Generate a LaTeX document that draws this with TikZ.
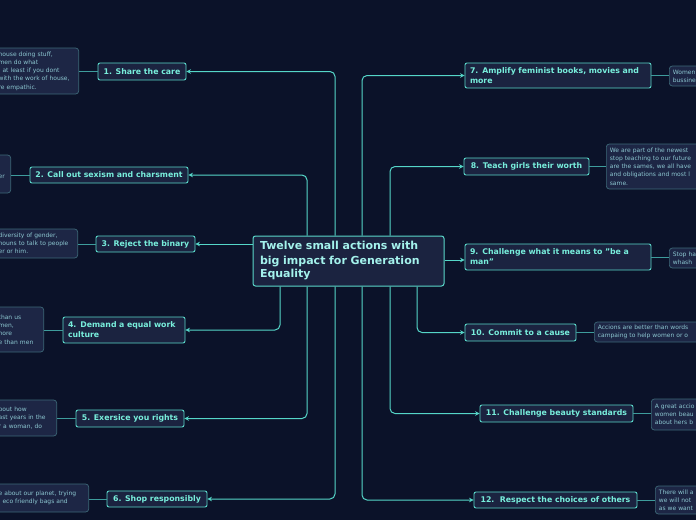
\documentclass[tikz,border=0pt]{standalone}
\usepackage{fontspec}
\setmainfont{DejaVu Sans}
\usetikzlibrary{arrows.meta}
\definecolor{bg}{HTML}{0B1229}
\definecolor{mainfill}{HTML}{1B2340}
\definecolor{mainborder}{HTML}{5AD8CA}
\definecolor{maintext}{HTML}{78EEDC}
\definecolor{centertext}{HTML}{A4F2EC}
\definecolor{notefill}{HTML}{1D2645}
\definecolor{noteborder}{HTML}{3D6878}
\definecolor{notetext}{HTML}{8CC6D0}
\definecolor{conncol}{HTML}{55D6C8}
\definecolor{noteconn}{HTML}{3E9C9C}
\newcommand{\nl}[1]{\mbox{#1}}
\begin{document}
\begin{tikzpicture}[x=1pt,y=-1pt,
  mainbox/.style={draw=mainborder, fill=mainfill, text=maintext, rounded corners=2pt,
    line width=0.9pt, font=\fontsize{7.8}{10}\selectfont\bfseries, inner xsep=4pt, inner ysep=0pt},
  twoline/.style={align=left, inner xsep=5pt},
  centerbox/.style={draw=mainborder, fill=mainfill, text=centertext, rounded corners=2.5pt,
    line width=1pt, font=\fontsize{11}{13.5}\selectfont\bfseries, align=left,
    inner xsep=7pt, inner ysep=0pt},
  notebox/.style={draw=noteborder, fill=notefill, text=notetext, rounded corners=3pt,
    line width=0.7pt, font=\fontsize{6}{8.2}\selectfont, align=left, inner ysep=0pt},
  lnote/.style={notebox, anchor=east, inner xsep=2pt},
  rnote/.style={notebox, anchor=west, inner xsep=3.5pt, text width=130pt},
  conn/.style={draw=conncol, line width=1pt, rounded corners=5pt,
    -{Stealth[length=4.5pt,width=4.5pt]}},
  nconn/.style={draw=noteconn, line width=1pt}
]
\useasboundingbox[fill=bg] (0,0) rectangle (696,520);

% central node
\node[centerbox, minimum width=191pt, minimum height=50pt, text width=177pt] (c) at (348.5,261)
  {\vspace{1pt}Twelve small actions with\\big impact for Generation\\Equality};

% x positions of the trunk lines
\coordinate (xa) at (335,0);
\coordinate (xb) at (307,0);
\coordinate (xc) at (280,0);
\coordinate (xd) at (362,0);
\coordinate (xe) at (390,0);
\coordinate (xf) at (417,0);

% left main nodes
\node[mainbox, minimum width=88pt, minimum height=17pt] (n1) at (142,71.5) {1. Share the care};
\node[mainbox, minimum width=158pt, minimum height=16pt] (n2) at (109,175) {2. Call out sexism and charsment};
\node[mainbox, minimum width=99pt, minimum height=16pt] (n3) at (145.5,244) {3. Reject the binary};
\node[mainbox, twoline, text width=112pt, minimum height=26pt] (n4) at (124,330) {4. Demand a equal work\\culture};
\node[mainbox, minimum width=108pt, minimum height=17pt] (n5) at (130,418.5) {5. Exersice you rights};
\node[mainbox, minimum width=100pt, minimum height=16pt] (n6) at (157,499) {6. Shop responsibly};

% right main nodes
\node[mainbox, twoline, text width=176pt, minimum height=25pt] (n7) at (558,75.5) {7. Amplify feminist books, movies and\\more};
\node[mainbox, minimum width=125pt, minimum height=17pt] (n8) at (526.5,166.5) {8. Teach girls their worth};
\node[mainbox, twoline, text width=176pt, minimum height=26pt] (n9) at (558,257) {9. Challenge what it means to "be a\\man"};
\node[mainbox, minimum width=111pt, minimum height=17pt] (n10) at (520.5,332.5) {10. Commit to a cause};
\node[mainbox, minimum width=153pt, minimum height=17pt] (n11) at (556.5,413.5) {11. Challenge beauty standards};
\node[mainbox, minimum width=163pt, minimum height=16pt] (n12) at (555.5,500) {12.\ \ Respect the choices of others};

% left notes
\node[lnote, text width=78pt, minimum height=46pt] (l1) at (79,71)
  {\nl{house doing stuff,}\\\nl{men do what}\\\nl{, at least if you dont}\\\nl{with the work of house,}\\\nl{re empathic.}};
\node[lnote, text width=10pt, minimum height=38pt] (l2) at (11,174)
  {\mbox{}\\\mbox{}\\\nl{er}\\\mbox{}};
\node[lnote, text width=77pt, minimum height=29pt] (l3) at (78,243.5)
  {\nl{diversity of gender,}\\\nl{nouns to talk to people}\\\nl{er or him.}};
\node[lnote, text width=43pt, minimum height=45pt] (l4) at (44,329.5)
  {\nl{than us}\\\nl{men,}\\\nl{nore}\\\nl{e than men}};
\node[lnote, text width=56pt, minimum height=36pt] (l5) at (57,418)
  {\nl{bout how}\\\nl{ast years in the}\\\nl{r a woman, do}};
\node[lnote, text width=88pt, minimum height=28pt] (l6) at (89,498)
  {\nl{e about our planet, trying}\\\nl{, eco friendly bags and}};

% right notes
\node[rnote, minimum height=20pt] (r7) at (669,76) {Women\\bussine};
\node[rnote, minimum height=45pt] (r8) at (606,166.5)
  {We are part of the newest\\stop teaching to our future\\are the sames, we all have\\and obligations and most l\\same.};
\node[rnote, minimum height=20pt] (r9) at (669,258) {Stop ha\\whash};
\node[rnote, minimum height=20pt] (r10) at (594,332)
  {Accions are better than words\\campaing to help women or o};
\node[rnote, minimum height=31pt] (r11) at (651,414.5) {A great accio\\women beau\\about hers b};
\node[rnote, minimum height=28pt] (r12) at (655,500) {There will a\\we will not\\as we want};

% note connectors
\draw[nconn] (n1.west) -- (n1.west -| l1.east);
\draw[nconn] (n2.west) -- (n2.west -| l2.east);
\draw[nconn] (n3.west) -- (n3.west -| l3.east);
\draw[nconn] (n4.west) -- (n4.west -| l4.east);
\draw[nconn] (n5.west) -- (n5.west -| l5.east);
\draw[nconn] (n6.west) -- (n6.west -| l6.east);
\draw[nconn] (n7.east) -- (n7.east -| r7.west);
\draw[nconn] (n8.east) -- (n8.east -| r8.west);
\draw[nconn] (n9.east) -- (n9.east -| r9.west);
\draw[nconn] (n10.east) -- (n10.east -| r10.west);
\draw[nconn] (n11.east) -- (n11.east -| r11.west);
\draw[nconn] (n12.east) -- (n12.east -| r12.west);

% main connectors
\draw[conn] (c.north -| xa) |- (n1.east);
\draw[conn] (c.north -| xb) |- (n2.east);
\draw[conn] (c.west |- n3.east) -- (n3.east);
\draw[conn] (c.south -| xc) |- (n4.east);
\draw[conn] (c.south -| xb) |- (n5.east);
\draw[conn] (c.south -| xa) |- (n6.east);
\draw[conn] (c.north -| xd) |- (n7.west);
\draw[conn] (c.north -| xe) |- (n8.west);
\draw[conn] ([yshift=-3pt]c.east |- n9.west) -- ([yshift=-3pt]n9.west);
\draw[conn] (c.south -| xf) |- (n10.west);
\draw[conn] (c.south -| xe) |- (n11.west);
\draw[conn] (c.south -| xd) |- (n12.west);
\end{tikzpicture}
\end{document}
